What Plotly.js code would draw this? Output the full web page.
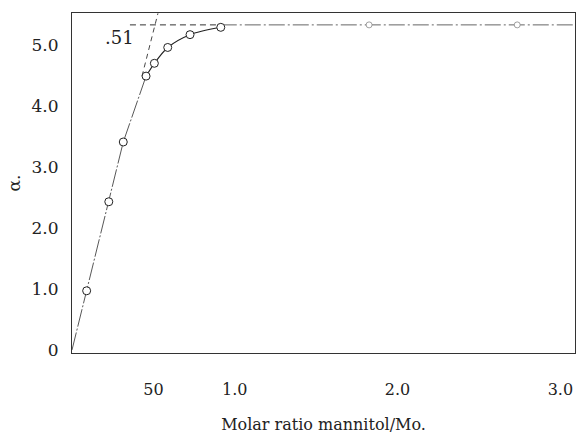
<!DOCTYPE html>
<html>
<head>
<meta charset="utf-8">
<script src="https://cdn.plot.ly/plotly-3.0.1.min.js"></script>
<style>html,body{margin:0;padding:0;background:#fff;}#chart{width:586px;height:437px;}</style>
</head>
<body>
<div id="chart"></div>
<script>
// Measured points (molar ratio mannitol/Mo, alpha)
const risingX = [0, 0.090, 0.226, 0.315, 0.455];
const risingY = [0, 0.97, 2.43, 3.41, 4.49];
const curveX = [0.455, 0.506, 0.588, 0.725, 0.914];
const curveY = [4.49, 4.70, 4.96, 5.17, 5.29];
const plateauPtsX = [1.825, 2.735];
const plateauPtsY = [5.33, 5.33];
const plateauLevel = 5.33;
const plateauDashX = [0.356, 0.914];
const plateauTailX = [0.914, 3.09];
const tangentX = [0.43, 0.528];
const tangentY = [4.49, 5.52];
const xTickVals = [0.5, 1, 2, 3];
const xTickText = ['50', '1.0', '2.0', '3.0'];
const yTickVals = [0, 1, 2, 3, 4, 5];
const yTickText = ['0', '1.0', '2.0', '3.0', '4.0', '5.0'];

const FONT = 'DejaVu Serif, Liberation Serif, serif';
const circ = {symbol: 'circle', size: 8, color: '#fff', line: {color: '#222', width: 1}};

const traces = [
  {x: tangentX, y: tangentY, mode: 'lines', line: {color: '#333', width: 0.9, dash: '5px,4px'}, hoverinfo: 'skip'},
  {x: plateauDashX, y: plateauDashX.map(() => plateauLevel), mode: 'lines', line: {color: '#333', width: 1, dash: '6px,4px'}, hoverinfo: 'skip'},
  {x: plateauTailX, y: plateauTailX.map(() => plateauLevel), mode: 'lines', line: {color: '#555', width: 0.9, dash: '16px,3px,2px,3px'}, hoverinfo: 'skip'},
  {x: risingX, y: risingY, mode: 'lines', line: {color: '#444', width: 0.9, dash: '18px,2px,2px,2px'}, hoverinfo: 'skip'},
  {x: curveX, y: curveY, mode: 'lines', line: {color: '#222', width: 1.1, shape: 'spline', smoothing: 0.8}, hoverinfo: 'skip'},
  {x: risingX.slice(1), y: risingY.slice(1), mode: 'markers', marker: circ},
  {x: curveX.slice(1), y: curveY.slice(1), mode: 'markers', marker: circ},
  {x: plateauPtsX, y: plateauPtsY, mode: 'markers', marker: {symbol: 'circle', size: 6, color: '#fff', line: {color: '#888', width: 0.8}}}
];

const layout = {
  width: 586, height: 437,
  margin: {l: 72, r: 11, t: 13, b: 84},
  paper_bgcolor: '#fff', plot_bgcolor: '#fff',
  showlegend: false,
  font: {family: FONT, color: '#222', size: 16},
  xaxis: {
    range: [0, 3.09], showgrid: false, zeroline: false,
    showline: true, mirror: true, linecolor: '#333', linewidth: 1,
    ticks: '', tickvals: xTickVals, ticktext: xTickText,
    ticklabelstandoff: 22, tickfont: {family: FONT, size: 16, color: '#222'},
    title: {text: 'Molar ratio mannitol/Mo.', font: {family: FONT, size: 16, color: '#222'}, standoff: 20}
  },
  yaxis: {
    range: [-0.05, 5.525], showgrid: false, zeroline: false,
    showline: true, mirror: true, linecolor: '#333', linewidth: 1,
    ticks: '', tickvals: yTickVals, ticktext: yTickText,
    ticklabelstandoff: 9, tickfont: {family: FONT, size: 17, color: '#222'},
    title: {text: 'α.', font: {family: FONT, size: 17, color: '#222'}, standoff: 6}
  },
  annotations: [
    {x: 0.289, y: 5.13, xref: 'x', yref: 'y', text: '.51', showarrow: false,
     font: {family: FONT, size: 18, color: '#222'}}
  ]
};

Plotly.newPlot('chart', traces, layout, {staticPlot: true, displayModeBar: false});
</script>
</body>
</html>
